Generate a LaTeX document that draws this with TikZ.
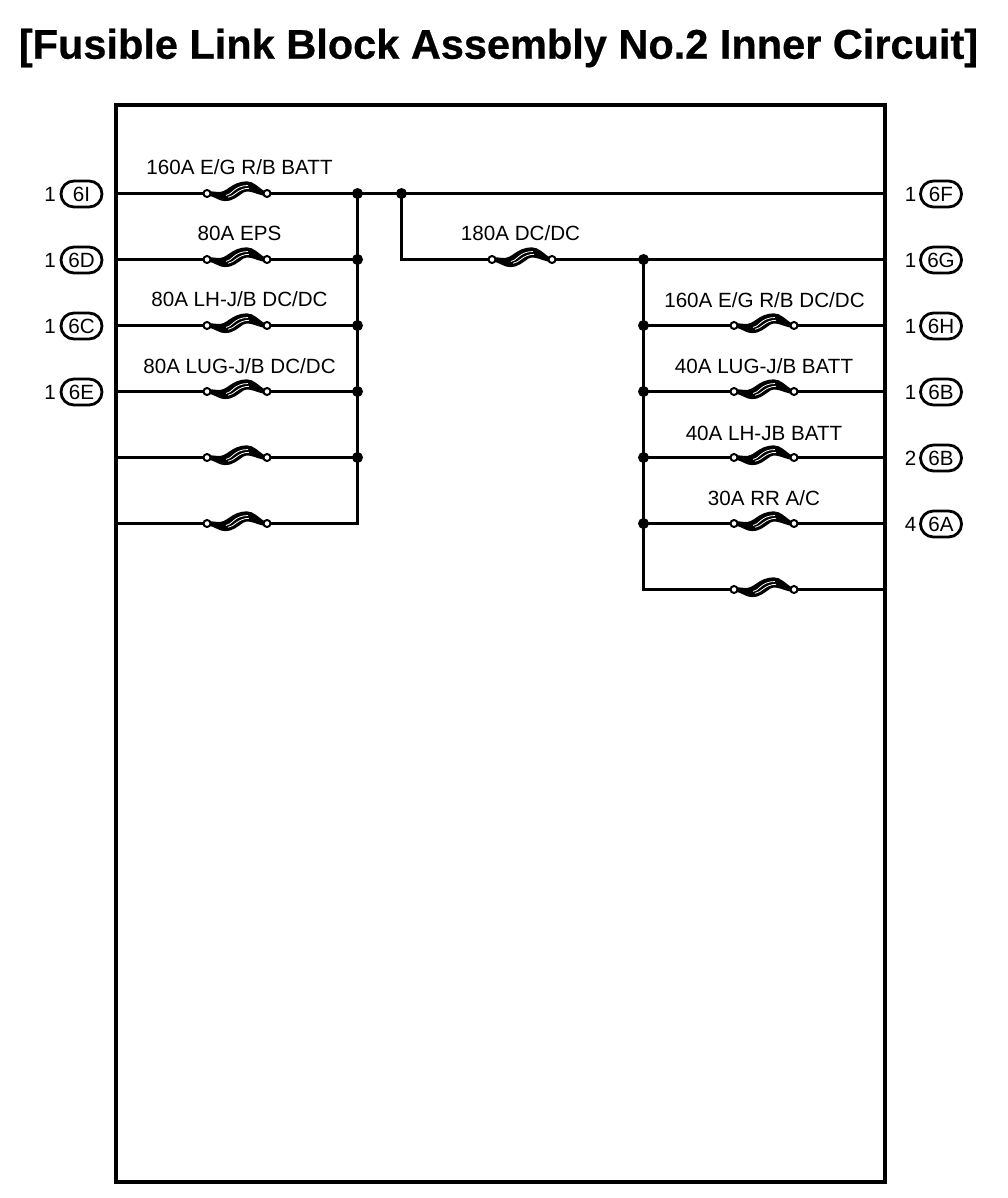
\documentclass[tikz,border=0pt]{standalone}
\usepackage{fontspec}
\setmainfont[BoldFeatures={FakeBold=0.6}]{Liberation Sans}
\tikzset{
  wire/.style={line width=3pt,line cap=butt,line join=miter},
  frame/.style={draw,line width=3.6pt},
  term/.style={circle,draw,fill=white,line width=2pt,inner sep=0pt,outer sep=0pt,minimum size=7pt},
  junction/.style={circle,fill=black,inner sep=0pt,minimum size=11pt},
  pill/.style={draw,line width=2.8pt,rounded corners=12.9pt,minimum width=41pt,minimum height=26pt,inner sep=0pt,font=\fontsize{20.6}{20.6}\selectfont},
  pin/.style={font=\fontsize{20.6}{20.6}\selectfont,inner sep=0pt},
  fuselabel/.style={font=\fontsize{20.6}{20.6}\selectfont,inner sep=0pt},
  titletext/.style={font=\bfseries\fontsize{41.5}{42}\selectfont,inner sep=0pt},
  fusefill/.style={fill=black,draw=black,line width=2.2pt,line join=round}
}
% #1 x centre, #2 y, #3 name
\newcommand{\fusebody}[3]{%
  \begin{scope}[shift={(#1,#2)}]
    \path[fusefill] (-27,-1.2) -- (-20,-0.5) .. controls (-9,1) and (-6,-11) .. (10,-11)
      .. controls (16,-11) and (20,-6) .. (27,-1.2) -- (27,1.2) -- (21,-0.5)
      .. controls (14,-3) and (10,-4) .. (6,-2) .. controls (0,2) and (-4,6.5) .. (-12,6.5)
      .. controls (-17,6.5) and (-21,3) .. (-27,1.2) -- cycle;
    \draw[white,line width=.8pt] (-11,2) .. controls (-5,1.5) and (-3,-8) .. (11,-8);
    \draw[white,line width=.8pt] (-9,3.8) .. controls (-3,3.5) and (1,-5.2) .. (12,-5.2);
    \node[term] (#3-l) at (-30,0) {};
    \node[term] (#3-r) at (30,0) {};
  \end{scope}}
\begin{document}
\begin{tikzpicture}[x=1pt,y=-1pt]
\useasboundingbox (0,0) rectangle (1008,1198);
\node[titletext] (title) at (498.5,48) {[Fusible Link Block Assembly No.2 Inner Circuit]};
\node[frame,minimum width=769pt,minimum height=1077pt,inner sep=0pt] (box) at (500.5,643.5) {};

% edge coordinates
\foreach \n/\y in {a/193.5,b/259.5,c/325.5,d/391.5,e/457.5,f/523.5}{\coordinate (L\n) at (116,\y);}
\foreach \n/\y in {a/193.5,b/259.5,c/325.5,d/391.5,e/457.5,f/523.5,g/589.5}{\coordinate (R\n) at (885,\y);}

% junctions
\node[junction] (ja) at (357.5,193.5) {};
\node[junction] (jb) at (357.5,259.5) {};
\node[junction] (jc) at (357.5,325.5) {};
\node[junction] (jd) at (357.5,391.5) {};
\node[junction] (je) at (357.5,457.5) {};
\coordinate (jf) at (357.5,523.5);
\node[junction] (k) at (401.5,193.5) {};
\node[junction] (mb) at (643.5,259.5) {};
\node[junction] (mc) at (643.5,325.5) {};
\node[junction] (md) at (643.5,391.5) {};
\node[junction] (me) at (643.5,457.5) {};
\node[junction] (mf) at (643.5,523.5) {};
\coordinate (mg) at (643.5,589.5);

% left fuses
\fusebody{237}{193.5}{fa}
\fusebody{237}{259.5}{fb}
\fusebody{237}{325.5}{fc}
\fusebody{237}{391.5}{fd}
\fusebody{237}{457.5}{fe}
\fusebody{237}{523.5}{ff}
% middle
\fusebody{522}{259.5}{fm}
% right
\fusebody{764}{325.5}{rc}
\fusebody{764}{391.5}{rd}
\fusebody{764}{457.5}{re}
\fusebody{764}{523.5}{rf}
\fusebody{764}{589.5}{rg}

% wires
\foreach \s/\f/\j in {a/fa/ja,b/fb/jb,c/fc/jc,d/fd/jd,e/fe/je}{
  \draw[wire] (L\s) -- (\f-l);
  \draw[wire] (\f-r) -- (\j.center);
}
\draw[wire] (Lf) -- (ff-l);
\draw[wire] (ja.center) -- (jf) -- (ff-r);
\draw[wire] (ja.center) -- (Ra);
\draw[wire] (k.center) |- (fm-l);
\draw[wire] (fm-r) -- (mb.center) -- (Rb);
\draw[wire] (mb.center) -- (mg) -- (rg-l);
\foreach \s/\f/\j in {c/rc/mc,d/rd/md,e/re/me,f/rf/mf}{
  \draw[wire] (\j.center) -- (\f-l);
  \draw[wire] (\f-r) -- (R\s);
}
\draw[wire] (rg-r) -- (Rg);

% fuse labels
\node[fuselabel] (la) at (239.5,167) {160A E/G R/B BATT};
\node[fuselabel] (lb) at (239.5,233.5) {80A EPS};
\node[fuselabel] (lc) at (239.5,299.5) {80A LH-J/B DC/DC};
\node[fuselabel] (ld) at (239.5,366) {80A LUG-J/B DC/DC};
\node[fuselabel] (lm) at (520.5,233.5) {180A DC/DC};
\node[fuselabel] (rlc) at (764.5,300) {160A E/G R/B DC/DC};
\node[fuselabel] (rld) at (764,366) {40A LUG-J/B BATT};
\node[fuselabel] (rle) at (764,433.5) {40A LH-JB BATT};
\node[fuselabel] (rlf) at (764,498.5) {30A RR A/C};

% left connectors
\foreach \n/\y/\t in {a/194/6I,b/260/6D,c/326/6C,d/392/6E}{
  \node[pill] (cl\n) at (81.5,\y) {\t};
  \node[pin] (pl\n) at (50,\y) {1};
}
% right connectors
\foreach \n/\y/\p/\t in {a/194/1/6F,b/260/1/6G,c/326/1/6H,d/392/1/6B,e/458/2/6B,f/524/4/6A}{
  \node[pill] (cr\n) at (941,\y) {\t};
  \node[pin] (pr\n) at (910.5,\y) {\p};
}
\end{tikzpicture}
\end{document}
